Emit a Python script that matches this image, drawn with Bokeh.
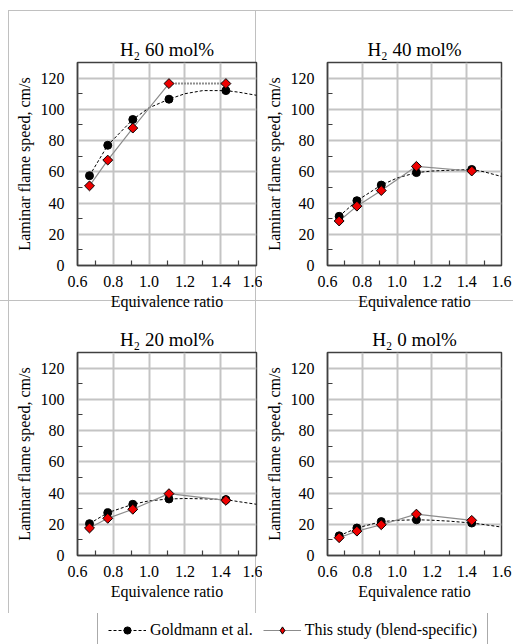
import math
from bokeh.plotting import figure
from bokeh.layouts import column, row
from bokeh.models import FixedTicker, Legend, LegendItem, Range1d
from bokeh.embed import file_html
from bokeh.resources import INLINE

# ---------------- data ----------------
phi = [0.667, 0.769, 0.909, 1.111, 1.429]

goldmann_60 = [57.5, 77.0, 93.5, 106.5, 112.0]
study_60 = [51.0, 67.5, 88.0, 116.5, 116.5]
goldmann_40 = [31.5, 41.5, 51.5, 59.5, 61.5]
study_40 = [28.5, 38.0, 48.0, 63.5, 60.5]
goldmann_20 = [20.4, 27.4, 32.8, 36.2, 35.8]
study_20 = [17.6, 23.8, 29.6, 39.6, 35.3]
goldmann_0 = [12.6, 17.6, 21.7, 22.9, 20.8]
study_0 = [11.4, 15.6, 19.7, 26.5, 22.5]

# dashed Goldmann et al. curve
curve_phi = [0.667, 0.769, 0.909, 1.0, 1.111, 1.2, 1.3, 1.429, 1.5, 1.6]
curve_60 = [57.5, 77.0, 93.5, 101.0, 106.5, 110.0, 112.0, 112.0, 111.0, 109.0]
curve_40 = [31.5, 41.5, 51.5, 56.0, 59.5, 60.5, 61.0, 61.5, 60.0, 57.0]
curve_20 = [20.4, 27.4, 32.8, 35.0, 36.2, 36.5, 36.3, 35.8, 34.5, 32.8]
curve_0 = [12.6, 17.6, 21.7, 22.5, 22.9, 22.6, 22.0, 20.8, 19.8, 18.2]

titles = ["H\u2082 60 mol%", "H\u2082 40 mol%", "H\u2082 20 mol%", "H\u2082 0 mol%"]
x_ticks = [0.6, 0.8, 1.0, 1.2, 1.4, 1.6]
x_tick_labels = ["0.6", "0.8", "1.0", "1.2", "1.4", "1.6"]
x_minor = [0.7, 0.9, 1.1, 1.3, 1.5]
y_ticks = [0, 20, 40, 60, 80, 100, 120]
y_minor = [10, 30, 50, 70, 90, 110]
series_names = ["Goldmann et al.", "This study (blend-specific)"]
x_label = "Equivalence ratio"
y_label = "Laminar flame speed, cm/s"

SERIF = "Liberation Serif"
GRID = "#c4c4c4"
FRAME = "#404040"
STUDY_LINE = "#8c8c8c"
RED = "#ee0000"


def panel(title, gold, study, curve, width, height, ml, mr, mt, mb, dotted_tail=False):
    p = figure(width=width, height=height, x_range=Range1d(0.6, 1.6), y_range=Range1d(0, 130),
               output_backend="svg", toolbar_location=None,
               min_border_left=ml, min_border_right=mr, min_border_top=mt, min_border_bottom=mb)
    p.border_fill_color = None
    p.background_fill_color = "white"
    p.outline_line_color = FRAME
    p.outline_line_width = 1.5

    p.title.text = title
    p.title.align = "center"
    p.title.text_font = SERIF
    p.title.text_font_size = "19px"
    p.title.text_font_style = "normal"
    p.title.text_color = "black"
    p.title.standoff = 6
    p.title.offset = -5

    p.xaxis.ticker = FixedTicker(ticks=x_ticks, minor_ticks=x_minor)
    p.yaxis.ticker = FixedTicker(ticks=y_ticks, minor_ticks=y_minor)
    p.xaxis.major_label_overrides = {t: l for t, l in zip(x_ticks, x_tick_labels)}
    p.xaxis.axis_label = x_label
    p.yaxis.axis_label = y_label
    for ax in (p.xaxis, p.yaxis):
        ax.axis_label_text_font = SERIF
        ax.axis_label_text_font_size = "16px"
        ax.axis_label_text_font_style = "normal"
        ax.axis_label_text_color = "black"
        ax.major_label_text_font = SERIF
        ax.major_label_text_font_size = "16px"
        ax.major_label_text_font_style = "normal"
        ax.major_label_text_color = "black"
        ax.axis_line_color = FRAME
        ax.axis_line_width = 1.5
        ax.major_tick_in = 0
        ax.major_tick_out = 0
        ax.minor_tick_in = 5
        ax.minor_tick_out = 0
        ax.minor_tick_line_color = FRAME
        ax.minor_tick_line_width = 1.2
    p.xaxis.major_label_standoff = 10
    p.xaxis.axis_label_standoff = 3
    p.yaxis.major_label_standoff = 13
    p.yaxis.axis_label_standoff = 5

    p.xgrid.ticker = FixedTicker(ticks=x_ticks)
    p.ygrid.ticker = FixedTicker(ticks=y_ticks)
    p.grid.grid_line_color = GRID
    p.grid.grid_line_width = 2

    p.line(curve_phi, curve, line_color="black", line_width=1, line_dash="3 2")
    if dotted_tail:
        p.line(phi[:4], study[:4], line_color=STUDY_LINE, line_width=1.2)
        p.line(phi[3:], study[3:], line_color=STUDY_LINE, line_width=2, line_dash="2 1")
    else:
        p.line(phi, study, line_color=STUDY_LINE, line_width=1.2)
    p.scatter(phi, gold, marker="circle", size=8, fill_color="black", line_color="black")
    p.scatter(phi, study, marker="square", size=7, angle=math.pi / 4,
              fill_color=RED, line_color="black", line_width=1)
    return p


TOP_H = 318
BOT_H = 295
LEFT_W = 262
RIGHT_W = 251

p1 = panel(titles[0], goldmann_60, study_60, curve_60, LEFT_W, TOP_H, 77, 6, 62, 53, dotted_tail=True)
p2 = panel(titles[1], goldmann_40, study_40, curve_40, RIGHT_W, TOP_H, 62, 12, 62, 53)
p3 = panel(titles[2], goldmann_20, study_20, curve_20, LEFT_W, BOT_H, 77, 6, 34, 58)
p4 = panel(titles[3], goldmann_0, study_0, curve_0, RIGHT_W, BOT_H, 62, 12, 34, 58)

# legend strip
lf = figure(width=513, height=31, x_range=Range1d(0, 1), y_range=Range1d(0, 1),
            output_backend="svg", toolbar_location=None, x_axis_location=None, y_axis_location=None,
            min_border=0, min_border_left=0, min_border_right=0, min_border_top=0, min_border_bottom=0)
lf.border_fill_color = None
lf.background_fill_color = None
lf.outline_line_color = None
lf.grid.visible = False
g_line = lf.line([-2, -1], [-2, -2], line_color="black", line_width=1, line_dash="3 2")
g_pts = lf.scatter([-2], [-2], marker="circle", size=7, fill_color="black", line_color="black")
s_line = lf.line([-2, -1], [-2, -2], line_color=STUDY_LINE, line_width=1.2)
s_pts = lf.scatter([-2], [-2], marker="diamond", size=11, fill_color=RED, line_color="black")
legend = Legend(items=[LegendItem(label=series_names[0], renderers=[g_line, g_pts]),
                       LegendItem(label=series_names[1], renderers=[s_line, s_pts])],
                orientation="horizontal", location=(97, -6))
legend.label_text_font = SERIF
legend.label_text_font_size = "16px"
legend.label_text_font_style = "normal"
legend.label_text_color = "black"
legend.border_line_color = "#555555"
legend.border_line_width = 1.5
legend.background_fill_color = "white"
legend.background_fill_alpha = 1
legend.padding = 10
legend.margin = 0
legend.spacing = 10
legend.glyph_width = 38
legend.glyph_height = 18
legend.label_height = 18
legend.label_standoff = 4
lf.add_layout(legend)

line_css = "linear-gradient(#c0c0c0, #c0c0c0)"
layout = column(
    row(p1, p2),
    row(p3, p4),
    lf,
    styles={
        "background-color": "white",
        "background-image": ", ".join([line_css] * 4),
        "background-size": "505px 1px, 1px 603px, 1px 603px, 513px 1px",
        "background-position": "8px 10px, 8px 10px, 255px 10px, 0px 300px",
        "background-repeat": "no-repeat",
    },
)

open("out.html", "w").write(file_html(layout, INLINE))
